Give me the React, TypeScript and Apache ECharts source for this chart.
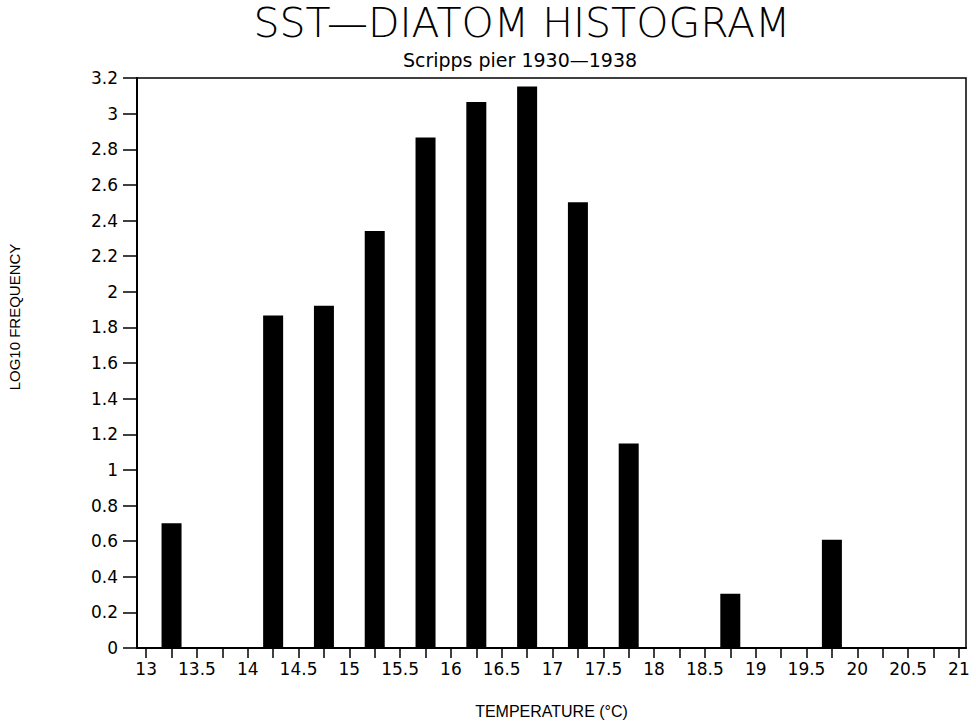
import React, { useEffect, useRef } from "react";
import * as echarts from "echarts";

const titleText = "SST—DIATOM HISTOGRAM";
const subtitleText = "Scripps pier 1930—1938";
const xAxisName = "TEMPERATURE (°C)";
const yAxisName = "LOG10 FREQUENCY";

// bin centres (°C) and log10 frequency
const binCenters = [13.25, 13.75, 14.25, 14.75, 15.25, 15.75, 16.25, 16.75, 17.25, 17.75, 18.25, 18.75, 19.25, 19.75, 20.25, 20.75];
const log10Freq = [0.7, 0, 1.866, 1.922, 2.341, 2.866, 3.065, 3.152, 2.502, 1.148, 0, 0.305, 0, 0.608, 0, 0];

const xTickValues = [13, 13.25, 13.5, 13.75, 14, 14.25, 14.5, 14.75, 15, 15.25, 15.5, 15.75, 16, 16.25, 16.5, 16.75, 17, 17.25, 17.5, 17.75, 18, 18.25, 18.5, 18.75, 19, 19.25, 19.5, 19.75, 20, 20.25, 20.5, 20.75, 21];
const xLabelValues = [13, 13.5, 14, 14.5, 15, 15.5, 16, 16.5, 17, 17.5, 18, 18.5, 19, 19.5, 20, 20.5, 21];
const yMin = 0;
const yMax = 3.2;
const yStep = 0.2;
const xMin = 12.91;
const xMax = 21.07;

export default function App() {
  const ref = useRef<HTMLDivElement>(null);
  useEffect(() => {
    if (!ref.current) return;
    const chart = echarts.init(ref.current, null, { renderer: "svg" });
    const labelFont = "DejaVu Sans";
    chart.setOption({
      animation: false,
      backgroundColor: "#ffffff",
      title: [
        {
          text: titleText,
          left: 522,
          textAlign: "center",
          top: 2,
          padding: 0,
          textStyle: { fontFamily: "'DejaVu Sans ExtraLight', 'DejaVu Sans'", fontSize: 41, fontWeight: 200, color: "#000" },
        },
        {
          text: subtitleText,
          left: 520,
          textAlign: "center",
          top: 50,
          padding: 0,
          textStyle: { fontFamily: labelFont, fontSize: 19, fontWeight: "normal", color: "#000" },
        },
      ],
      grid: {
        left: 137,
        right: 10,
        top: 78,
        bottom: 79,
        show: true,
        borderColor: "#000",
        borderWidth: 1.5,
        backgroundColor: "transparent",
        outerBoundsMode: "none",
      },
      xAxis: {
        type: "value",
        min: xMin,
        max: xMax,
        name: xAxisName,
        nameLocation: "middle",
        nameGap: 55,
        nameTextStyle: { fontFamily: "Liberation Sans", fontSize: 16, color: "#000" },
        axisLine: { show: true, lineStyle: { color: "#000", width: 2 } },
        axisTick: { show: true, length: 10, customValues: xTickValues, lineStyle: { color: "#000", width: 1.5 } },
        axisLabel: {
          customValues: xLabelValues,
          margin: 12,
          fontFamily: labelFont,
          fontSize: 17,
          color: "#000",
          formatter: (v: number) => String(v),
        },
        splitLine: { show: false },
      },
      yAxis: {
        type: "value",
        min: yMin,
        max: yMax,
        interval: yStep,
        axisLine: { show: true, lineStyle: { color: "#000", width: 2 } },
        axisTick: { show: true, length: 14, lineStyle: { color: "#000", width: 1.5 } },
        axisLabel: {
          margin: 19,
          fontFamily: labelFont,
          fontSize: 17,
          color: "#000",
          formatter: (v: number) => String(parseFloat(v.toFixed(1))),
        },
        splitLine: { show: false },
      },
      graphic: [
        {
          type: "text",
          x: 14,
          y: 317,
          rotation: Math.PI / 2,
          style: {
            text: yAxisName,
            fontFamily: "Liberation Sans",
            fontSize: 15,
            fill: "#000",
            align: "center",
            verticalAlign: "middle",
          },
        },
      ],
      series: [
        {
          type: "bar",
          data: binCenters.map((c, i) => [c, log10Freq[i]]),
          barWidth: 20,
          itemStyle: { color: "#000" },
        },
      ],
    });
    return () => chart.dispose();
  }, []);
  return <div ref={ref} style={{ position: "fixed", left: 0, top: 0, width: 976, height: 727 }} />;
}
